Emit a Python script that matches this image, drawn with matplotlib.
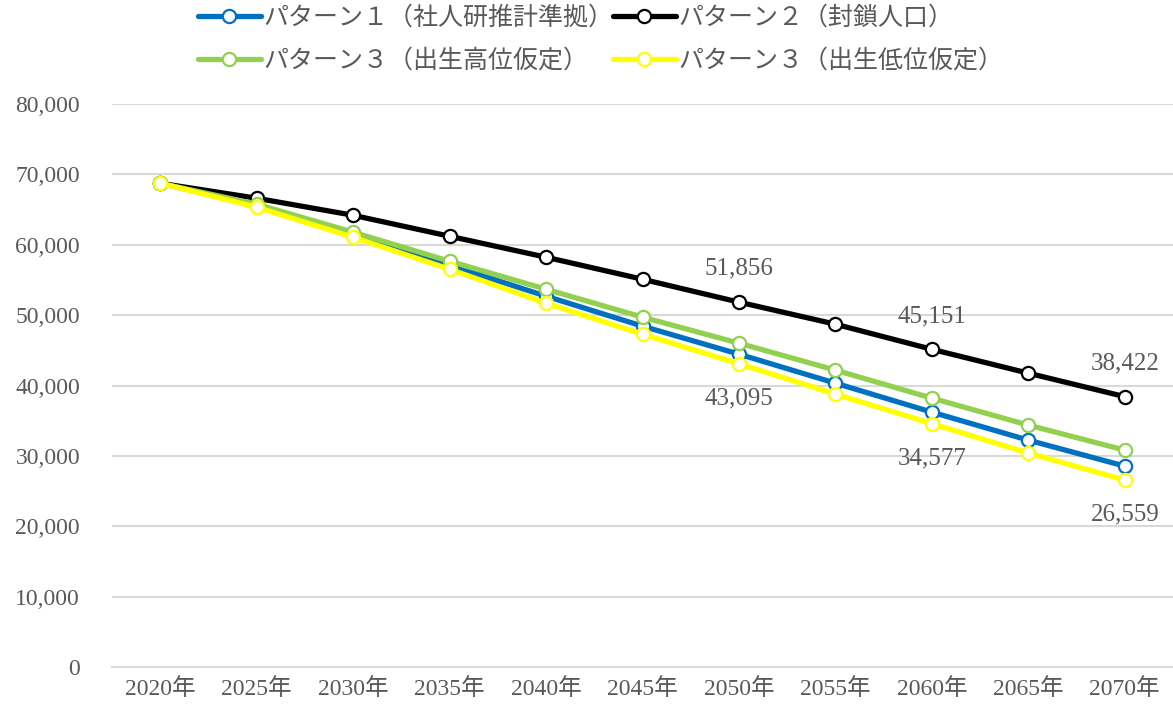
import matplotlib.pyplot as plt
from matplotlib.ticker import FuncFormatter

plt.rcParams['font.family'] = ['Liberation Serif', 'Noto Sans CJK JP']

# 年次と各パターンの推計値
years = ['2020年', '2025年', '2030年', '2035年', '2040年', '2045年',
         '2050年', '2055年', '2060年', '2065年', '2070年']
pattern1 = [68750, 65620, 61500, 57100, 52700, 48440, 44460, 40340, 36220, 32240, 28550]
pattern2 = [68750, 66620, 64200, 61220, 58240, 55110, 51856, 48720, 45151, 41760, 38422]
pattern3_high = [68750, 65770, 61790, 57670, 53690, 49720, 46020, 42190, 38210, 34380, 30820]
pattern3_low = [68750, 65340, 61080, 56530, 51700, 47300, 43095, 38780, 34577, 30400, 26559]

names = ['パターン１（社人研推計準拠）', 'パターン２（封鎖人口）',
         'パターン３（出生高位仮定）', 'パターン３（出生低位仮定）']
colors = ['#0070c0', '#000000', '#92d050', '#ffff00']
series = [pattern1, pattern2, pattern3_high, pattern3_low]

# ラベルを付ける年（2050, 2060, 2070）
label_idx = [6, 8, 10]

txt = '#595959'
fig = plt.figure(figsize=(11.73, 7.13), dpi=100)
ax = fig.add_axes([0.0955, 0.0645, 0.9045, 0.7895])

x = list(range(len(years)))
lines = []
for vals, name, c in zip(series, names, colors):
    ln, = ax.plot(x, vals, color=c, lw=3.8, marker='o', ms=9.5,
                  mfc='white', mec=c, mew=1.6, label=name, solid_capstyle='round')
    lines.append(ln)

for i in label_idx:
    ax.annotate(f'{pattern2[i]:,}', (i, pattern2[i]), xytext=(0, 24),
                textcoords='offset points', ha='center', va='center',
                fontsize=18, color=txt)
    ax.annotate(f'{pattern3_low[i]:,}', (i, pattern3_low[i]), xytext=(0, -25),
                textcoords='offset points', ha='center', va='center',
                fontsize=18, color=txt)

ax.set_xlim(-0.5, len(years) - 0.5)
ax.set_ylim(0, 80000)
ax.set_yticks(range(0, 80001, 10000))
ax.yaxis.set_major_formatter(FuncFormatter(lambda v, p: f'{int(v):,}'))
ax.set_xticks(x)
ax.set_xticklabels(years)
ax.tick_params(axis='y', length=0, pad=23, labelsize=17, labelcolor=txt)
ax.tick_params(axis='x', length=0, pad=8, labelsize=17, labelcolor=txt)

ax.grid(axis='y', color='#d9d9d9', lw=1.5)
ax.set_axisbelow(True)
for s in ['top', 'right', 'left']:
    ax.spines[s].set_visible(False)
ax.spines['bottom'].set_color('#d9d9d9')
ax.spines['bottom'].set_linewidth(1.5)

# 凡例は行方向に並べる（左列: 1, 3高位 / 右列: 2, 3低位）
order = [0, 2, 1, 3]
leg = fig.legend([lines[k] for k in order], [names[k] for k in order],
                 loc='upper left', bbox_to_anchor=(0.169, 0.994), ncol=2,
                 frameon=False, handlelength=2.5, handletextpad=0.1,
                 columnspacing=0.0, labelspacing=0.7, borderpad=0.0,
                 borderaxespad=0.0,
                 prop={'family': ['Noto Sans CJK JP'], 'size': 18})
for t in leg.get_texts():
    t.set_color(txt)

fig.savefig('out.png', dpi=100)
